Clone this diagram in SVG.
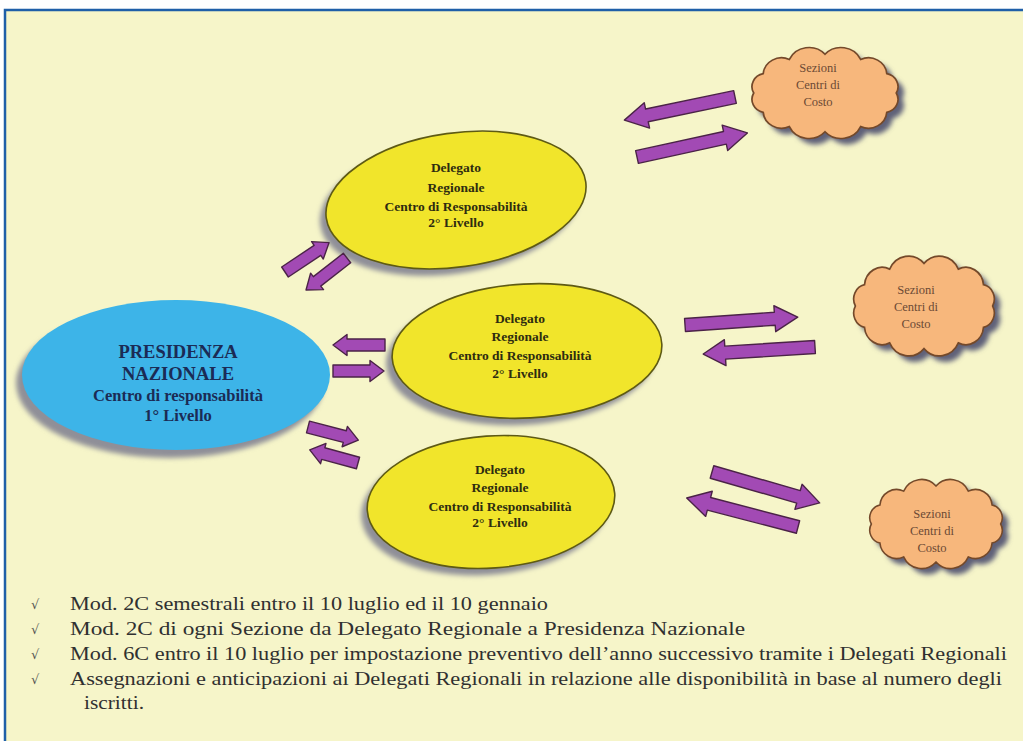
<svg xmlns="http://www.w3.org/2000/svg" width="1023" height="741" viewBox="0 0 1023 741">
<style>
.bg{fill:#f6f5c9;stroke:#1f5fa8;stroke-width:2.5}
.yel{fill:#f1e52b;stroke:#5e5a14;stroke-width:1.6}
.blu{fill:#3db4e8}
.shd{fill:#8f8f98;filter:url(#blur)}
.cld{fill:#f7b77c;stroke:#74492a;stroke-width:1.6}
.cshd{fill:#5e6178;filter:url(#blur)}
.arr{fill:#a24ab4;stroke:#4b2347;stroke-width:1.4;stroke-linejoin:round}
.t{font-family:"Liberation Serif","Times New Roman",serif;text-anchor:middle}
.ty{font-size:13.5px;font-weight:bold;fill:#2e2c10}
.tb{font-weight:bold;fill:#1b2b55}
.tc{font-size:12.5px;fill:#6b4a35}
.tl{font-family:"Liberation Serif","Times New Roman",serif;font-size:19px;fill:#303030}
.ck{font-family:"DejaVu Serif",serif;font-size:13px;fill:#555}
</style>
<defs>
<filter id="blur" x="-20%" y="-20%" width="140%" height="140%"><feGaussianBlur stdDeviation="2.5"/></filter>
<path id="cloud" d="M66,0 A13,13 0 0,1 57.2,19 A17,17 0 0,1 33,32.9 A20,20 0 0,1 0,38 A20,20 0 0,1 -33,32.9 A17,17 0 0,1 -57.2,19 A13,13 0 0,1 -66,0 A13,13 0 0,1 -57.2,-19 A17,17 0 0,1 -33,-32.9 A20,20 0 0,1 0,-38 A20,20 0 0,1 33,-32.9 A17,17 0 0,1 57.2,-19 A13,13 0 0,1 66,0 Z"/>
</defs>
<rect x="0" y="0" width="1023" height="741" fill="#ffffff"/>
<rect class="bg" x="5" y="10" width="1030" height="745"/>

<g id="presidenza">
<ellipse class="shd" cx="170" cy="383" rx="154" ry="75"/>
<ellipse class="blu" cx="176" cy="375" rx="154" ry="75"/>
<text class="t tb" x="178" y="358" font-size="18.5">PRESIDENZA</text>
<text class="t tb" x="178" y="380" font-size="18.5">NAZIONALE</text>
<text class="t tb" x="178" y="401" font-size="16.5">Centro di responsabilità</text>
<text class="t tb" x="178" y="421" font-size="16.5">1° Livello</text>
</g>

<g id="delegato1">
<ellipse class="shd" cx="450" cy="207" rx="131" ry="67" transform="rotate(-8 450 207)"/>
<ellipse class="yel" cx="456" cy="200" rx="131" ry="67" transform="rotate(-8 456 200)"/>
<text class="t ty" x="456" y="172">Delegato</text>
<text class="t ty" x="456" y="192">Regionale</text>
<text class="t ty" x="456" y="211">Centro di Responsabilità</text>
<text class="t ty" x="456" y="227">2° Livello</text>
</g>

<g id="delegato2">
<ellipse class="shd" cx="521" cy="358" rx="135" ry="67" transform="rotate(-3 521 358)"/>
<ellipse class="yel" cx="527" cy="351" rx="135" ry="67" transform="rotate(-3 527 351)"/>
<text class="t ty" x="520" y="323">Delegato</text>
<text class="t ty" x="520" y="341">Regionale</text>
<text class="t ty" x="520" y="360">Centro di Responsabilità</text>
<text class="t ty" x="520" y="378">2° Livello</text>
</g>

<g id="delegato3">
<ellipse class="shd" cx="485" cy="509" rx="124" ry="66" transform="rotate(-4 485 509)"/>
<ellipse class="yel" cx="491" cy="502" rx="124" ry="66" transform="rotate(-4 491 502)"/>
<text class="t ty" x="500" y="474">Delegato</text>
<text class="t ty" x="500" y="492">Regionale</text>
<text class="t ty" x="500" y="511">Centro di Responsabilità</text>
<text class="t ty" x="500" y="527">2° Livello</text>
</g>

<g id="sezioni1">
<use href="#cloud" class="cshd" transform="translate(831,99) scale(1.08,1.02)"/>
<use href="#cloud" class="cld" transform="translate(825,93) scale(1.08,1.02)"/>
<text class="t tc" x="818" y="72">Sezioni</text>
<text class="t tc" x="818" y="89">Centri di</text>
<text class="t tc" x="818" y="106">Costo</text>
</g>

<g id="sezioni2">
<use href="#cloud" class="cshd" transform="translate(930,312) scale(1.04,1.12)"/>
<use href="#cloud" class="cld" transform="translate(924,306) scale(1.04,1.12)"/>
<text class="t tc" x="916" y="294">Sezioni</text>
<text class="t tc" x="916" y="311">Centri di</text>
<text class="t tc" x="916" y="328">Costo</text>
</g>

<g id="sezioni3">
<use href="#cloud" class="cshd" transform="translate(942,530) scale(0.98,1.0)"/>
<use href="#cloud" class="cld" transform="translate(936,524) scale(0.98,1.0)"/>
<text class="t tc" x="932" y="518">Sezioni</text>
<text class="t tc" x="932" y="535">Centri di</text>
<text class="t tc" x="932" y="552">Costo</text>
</g>

<g id="connectors">
<polygon class="arr" points="0,-6.5 90,-6.5 90,-13 113,0 90,13 90,6.5 0,6.5" transform="translate(735,97) rotate(168.2)"/>
<polygon class="arr" points="0,-6.5 90,-6.5 90,-13 113,0 90,13 90,6.5 0,6.5" transform="translate(637,157) rotate(-12.3)"/>
<polygon class="arr" points="0,-6.5 90,-6.5 90,-13 113,0 90,13 90,6.5 0,6.5" transform="translate(685,325) rotate(-4)"/>
<polygon class="arr" points="0,-6.5 90,-6.5 90,-13 112,0 90,13 90,6.5 0,6.5" transform="translate(815,347) rotate(176.4)"/>
<polygon class="arr" points="0,-6.5 90,-6.5 90,-13 112,0 90,13 90,6.5 0,6.5" transform="translate(712,472) rotate(16)"/>
<polygon class="arr" points="0,-6.5 92,-6.5 92,-13 115,0 92,13 92,6.5 0,6.5" transform="translate(798,527) rotate(194.6)"/>
<polygon class="arr" points="0,-6 39,-6 39,-10.5 53,0 39,10.5 39,6 0,6" transform="translate(285,272) rotate(-33.7)"/>
<polygon class="arr" points="0,-6 38,-6 38,-10.5 52,0 38,10.5 38,6 0,6" transform="translate(347,258) rotate(142)"/>
<polygon class="arr" points="0,-6 38,-6 38,-10.5 52,0 38,10.5 38,6 0,6" transform="translate(385,345) rotate(180)"/>
<polygon class="arr" points="0,-6 37,-6 37,-10.5 51,0 37,10.5 37,6 0,6" transform="translate(333,371)"/>
<polygon class="arr" points="0,-6 38,-6 38,-10.5 52,0 38,10.5 38,6 0,6" transform="translate(308,427) rotate(14.6)"/>
<polygon class="arr" points="0,-6 36,-6 36,-10.5 50,0 36,10.5 36,6 0,6" transform="translate(358,463) rotate(195.2)"/>
</g>

<g id="notes">
<text class="ck" x="31" y="609">√</text>
<text class="ck" x="31" y="634">√</text>
<text class="ck" x="31" y="659">√</text>
<text class="ck" x="31" y="684">√</text>
<text class="tl" x="70" y="610" textLength="478" lengthAdjust="spacingAndGlyphs">Mod. 2C semestrali entro il 10 luglio ed il 10 gennaio</text>
<text class="tl" x="70" y="635" textLength="675" lengthAdjust="spacingAndGlyphs">Mod. 2C di ogni Sezione da Delegato Regionale a Presidenza Nazionale</text>
<text class="tl" x="70" y="660" textLength="937" lengthAdjust="spacingAndGlyphs">Mod. 6C entro il 10 luglio per impostazione preventivo dell’anno successivo tramite i Delegati Regionali</text>
<text class="tl" x="70" y="685" textLength="932" lengthAdjust="spacingAndGlyphs">Assegnazioni e anticipazioni ai Delegati Regionali in relazione alle disponibilità in base al numero degli</text>
<text class="tl" x="84" y="709" textLength="60" lengthAdjust="spacingAndGlyphs">iscritti.</text>
</g>
</svg>
